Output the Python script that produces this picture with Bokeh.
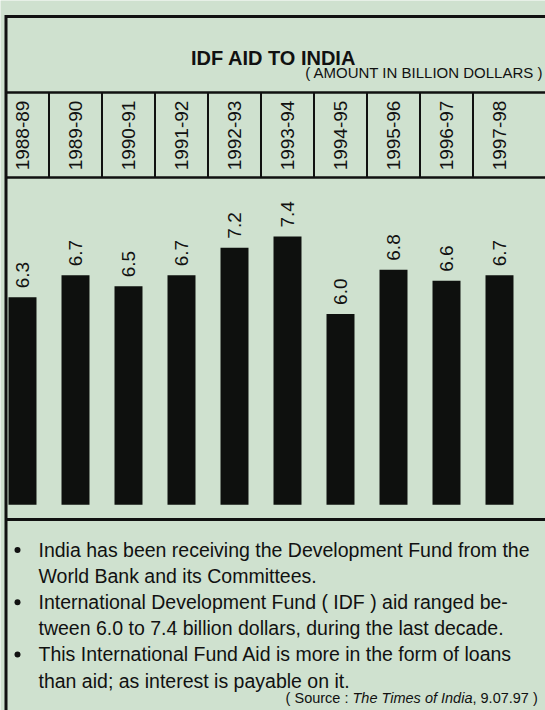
import numpy as np
from bokeh.plotting import figure
from bokeh.models import Range1d
from bokeh.core.properties import value
from bokeh.embed import file_html
from bokeh.resources import INLINE

# ---------------- data ----------------
YEARS = ["1988-89", "1989-90", "1990-91", "1991-92", "1992-93",
         "1993-94", "1994-95", "1995-96", "1996-97", "1997-98"]
AID = [6.3, 6.7, 6.5, 6.7, 7.2, 7.4, 6.0, 6.8, 6.6, 6.7]   # billion dollars
BASE = 2.54   # the printed chart's bars start from a truncated baseline

TITLE = "IDF AID TO INDIA"
SUBTITLE = "( AMOUNT IN BILLION DOLLARS )"
BULLETS = [
    ["India has been receiving the Development Fund from the",
     "World Bank and its Committees."],
    ["International Development Fund ( IDF ) aid ranged be-",
     "tween 6.0 to 7.4 billion dollars, during the last decade."],
    ["This International Fund Aid is more in the form of loans",
     "than aid; as interest is payable on it."],
]
SOURCE_PRE = "( Source : "
SOURCE_PUB = "The Times of India"
SOURCE_POST = " , 9.07.97 )"

# ---------------- style / layout ----------------
W, H = 545, 710
BG = "#cfe1cf"
INK = "#111111"
BAR = "#0e100e"
FONT = value("Liberation Sans")

idx = np.arange(len(YEARS))
labels = [f"{v:.1f}" for v in AID]

p = figure(width=W, height=H,
           x_range=Range1d(-0.4151, 9.868), y_range=Range1d(-1.185, 11.677),
           x_axis_type=None, y_axis_type=None,
           toolbar_location=None, output_backend="svg", min_border=0)
p.extra_x_ranges = {"px": Range1d(0, W)}
p.extra_y_ranges = {"px": Range1d(H, 0)}
p.background_fill_color = BG
p.border_fill_color = BG
p.outline_line_color = None

PX = dict(x_range_name="px", y_range_name="px")

# frame lines
BOX_TOP, HEADER_TOP, YEAR_BOTTOM, AREA_BOTTOM, BOX_LEFT = 16, 92, 177, 519, 5.5
p.segment(x0=[BOX_LEFT, BOX_LEFT], x1=[W, W], y0=[BOX_TOP, AREA_BOTTOM], y1=[BOX_TOP, AREA_BOTTOM],
          line_color=INK, line_width=3, **PX)
p.segment(x0=[BOX_LEFT, BOX_LEFT], x1=[W, W], y0=[HEADER_TOP, YEAR_BOTTOM], y1=[HEADER_TOP, YEAR_BOTTOM],
          line_color=INK, line_width=2.5, **PX)
p.segment(x0=[BOX_LEFT], x1=[BOX_LEFT], y0=[BOX_TOP - 1.5], y1=[H], line_color=INK, line_width=3, **PX)

# year cell dividers (between categories)
div_x = idx[:-1] + 0.5
p.segment(x0=div_x, x1=div_x, y0=[HEADER_TOP] * len(div_x), y1=[YEAR_BOTTOM] * len(div_x),
          line_color=INK, line_width=2, y_range_name="px")

# title and subtitle
p.text(x=[273], y=[57], text=[TITLE], text_align="center", text_baseline="middle",
       text_font=FONT, text_font_size="20px", text_font_style="bold", text_color=INK, **PX)
p.text(x=[543], y=[72], text=[SUBTITLE], text_align="right", text_baseline="middle",
       text_font=FONT, text_font_size="15px", text_color=INK, **PX)

# year labels (vertical)
p.text(x=idx, y=[135] * len(YEARS), text=YEARS, angle=np.pi / 2,
       text_align="center", text_baseline="middle",
       text_font=FONT, text_font_size="19px", text_color=INK, y_range_name="px")

# bars
p.vbar(x=idx, top=AID, bottom=BASE, width=0.528, fill_color=BAR, line_color=None)

# value labels (vertical, above bars)
p.text(x=idx, y=AID, text=labels, angle=np.pi / 2, y_offset=-9,
       text_align="left", text_baseline="middle",
       text_font=FONT, text_font_size="19px", text_color=INK)

# bullet notes
LINE_TOP, LINE_GAP = 549.5, 26.1
lines, dots_y = [], []
k = 0
for para in BULLETS:
    dots_y.append(LINE_TOP + k * LINE_GAP)
    for ln in para:
        lines.append((ln, LINE_TOP + k * LINE_GAP))
        k += 1
p.scatter(x=[17] * len(dots_y), y=dots_y, size=6, marker="circle",
          fill_color=INK, line_color=None, **PX)
p.text(x=[38] * len(lines), y=[y for _, y in lines], text=[t for t, _ in lines],
       text_align="left", text_baseline="middle",
       text_font=FONT, text_font_size="19.5px", text_color=INK, **PX)

# source line
SRC_Y, SRC_X, PUB_W = 697, 352, 120
p.text(x=[SRC_X], y=[SRC_Y], text=[SOURCE_PRE], text_align="right", text_baseline="middle",
       text_font=FONT, text_font_size="14.5px", text_color=INK, **PX)
p.text(x=[SRC_X], y=[SRC_Y], text=[SOURCE_PUB], text_align="left", text_baseline="middle",
       text_font=FONT, text_font_size="14.5px", text_font_style="italic", text_color=INK, **PX)
p.text(x=[SRC_X + PUB_W], y=[SRC_Y], text=[SOURCE_POST], text_align="left", text_baseline="middle",
       text_font=FONT, text_font_size="14.5px", text_color=INK, **PX)

open("out.html", "w").write(file_html(p, INLINE))
